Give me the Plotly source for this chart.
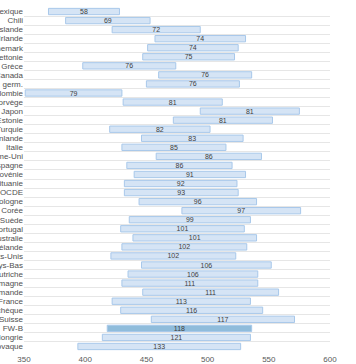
import plotly.graph_objects as go

countries = ["Mexique", "Chili", "Islande", "Irlande", "Danemark", "Lettonie", "Grèce",
             "Canada", "Comm. germ.", "Colombie", "Norvège", "Japon", "Estonie", "Turquie",
             "Finlande", "Italie", "Royaume-Uni", "Espagne", "Slovénie", "Lituanie", "OCDE",
             "Pologne", "Corée", "Suède", "Portugal", "Australie", "Nouvelle-Zélande",
             "États-Unis", "Pays-Bas", "Autriche", "Allemagne", "Comm. flamande", "France",
             "Rép. tchèque", "Suisse", "FW-B", "Hongrie", "Rép. slovaque"]

low = [370, 384, 422, 457, 451, 447, 398, 460, 450, 351, 431, 494, 472, 420,
       446, 430, 458, 434, 440, 432, 432, 444, 479, 436, 429, 439, 430,
       421, 446, 435, 430, 447, 422, 429, 454, 418, 414, 394]

spread = [58, 69, 72, 74, 74, 75, 76, 76, 76, 79, 81, 81, 81, 82, 83, 85, 86, 86, 91, 92,
          93, 96, 97, 99, 101, 101, 102, 102, 106, 106, 111, 111, 113, 116, 117, 118, 121, 133]

highlight = "FW-B"
colors = ["#8fbcdb" if c == highlight else "#d5e4f5" for c in countries]

fig = go.Figure(go.Bar(
    y=countries, x=spread, base=low, orientation="h",
    marker=dict(color=colors, line=dict(color="#a8c8ea", width=1)),
    text=[str(v) for v in spread], textposition="inside", insidetextanchor="middle",
    textangle=0, textfont=dict(size=7, color="#404040"),
    hoverinfo="skip",
))

fig.update_layout(
    width=356, height=364,
    margin=dict(l=24, r=26, t=7, b=13),
    paper_bgcolor="white", plot_bgcolor="white",
    bargap=0.3, showlegend=False,
    font=dict(family="Liberation Sans, Arial, sans-serif", size=8, color="#404040"),
    uniformtext=dict(mode="show", minsize=7),
    xaxis=dict(range=[350, 600], dtick=50, showgrid=False, zeroline=False,
               showline=False, ticks="", tickfont=dict(size=8, color="#595959"),
               ticklabelstandoff=2, automargin=False),
    yaxis=dict(type="category", autorange="reversed", tickson="boundaries", dtick=1,
               showgrid=True, gridcolor="#e6e6e6", gridwidth=1, ticks="",
               zeroline=False, showline=False, tickfont=dict(size=8, color="#505050"),
               automargin=False),
)

fig.write_html("out.html", config={"displayModeBar": False},
               post_script="document.body.style.margin='0';")
